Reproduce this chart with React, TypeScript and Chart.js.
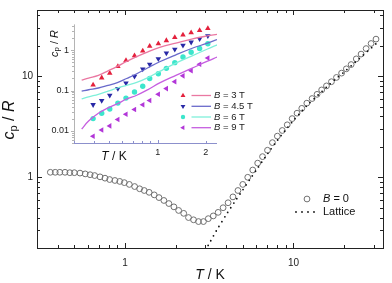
import React, { useEffect, useRef } from 'react';
import { Chart, registerables } from 'chart.js';
Chart.register(...registerables);

const FONT = '"Liberation Sans", Arial, Helvetica, sans-serif';

// ---- main panel: B = 0 data and lattice estimate ----
const T_B0 = [0.36, 0.385, 0.41, 0.44, 0.47, 0.50, 0.54, 0.58, 0.62, 0.66, 0.71, 0.76, 0.81, 0.87, 0.93, 0.99, 1.06, 1.14, 1.22, 1.30, 1.39, 1.49, 1.59, 1.70, 1.82, 1.95, 2.08, 2.23, 2.38, 2.55, 2.73, 2.92, 3.12, 3.34, 3.57, 3.82, 4.09, 4.37, 4.68, 5.00, 5.35, 5.73, 6.13, 6.55, 7.01, 7.50, 8.02, 8.58, 9.18, 9.82, 10.5, 11.2, 12.0, 12.9, 13.8, 14.7, 15.7, 16.8, 18.0, 19.3, 20.6, 22.0, 23.6, 25.2, 27.0, 28.9, 30.9];
const CP_B0 = [1.12, 1.12, 1.12, 1.12, 1.11, 1.11, 1.10, 1.08, 1.06, 1.04, 1.01, 0.98, 0.95, 0.93, 0.91, 0.885, 0.85, 0.81, 0.77, 0.74, 0.71, 0.67, 0.63, 0.59, 0.55, 0.51, 0.47, 0.44, 0.40, 0.38, 0.365, 0.365, 0.39, 0.415, 0.45, 0.50, 0.56, 0.64, 0.74, 0.85, 1.0, 1.18, 1.38, 1.6, 1.85, 2.2, 2.55, 2.9, 3.3, 3.8, 4.3, 4.8, 5.4, 6.0, 6.6, 7.3, 8.0, 8.8, 9.7, 10.7, 11.8, 13.0, 14.8, 16.5, 18.7, 21.0, 23.2];

const T_LAT = [3.0, 3.2, 3.5, 4.0, 4.5, 5.0, 5.5, 6.0, 7.0, 8.0, 9.0, 10, 11, 12, 14, 16, 18, 20, 23, 26, 29, 32];
const CP_LAT = [0.19, 0.23, 0.30, 0.43, 0.58, 0.75, 0.95, 1.17, 1.7, 2.3, 2.95, 3.65, 4.35, 5.1, 6.5, 8.0, 9.5, 11.0, 13.5, 16.2, 19.0, 22.0];

// ---- inset: field data (markers) and model curves (lines) ----
const T_INSET = [0.395, 0.447, 0.502, 0.564, 0.634, 0.717, 0.807, 0.892, 1.01, 1.134, 1.28, 1.44, 1.62, 1.83, 2.06];
const CP_3T = [0.139, 0.208, 0.272, 0.398, 0.56, 0.734, 0.963, 1.26, 1.46, 1.75, 2.09, 2.42, 2.74, 3.12, 3.48];
const CP_45T = [0.0446, 0.0566, 0.0767, 0.112, 0.153, 0.227, 0.344, 0.451, 0.614, 0.85, 1.06, 1.33, 1.59, 1.92, 2.29];
const CP_6T = [0.0202, 0.0274, 0.0348, 0.0489, 0.0652, 0.0922, 0.128, 0.2, 0.262, 0.357, 0.494, 0.684, 0.897, 1.11, 1.46];
const CP_9T = [0.00734, 0.01056, 0.0133, 0.0191, 0.0259, 0.034, 0.0446, 0.0566, 0.081, 0.112, 0.167, 0.232, 0.313, 0.451, 0.648];

const T_FIT = [0.335, 0.37, 0.426, 0.49, 0.56, 0.64, 0.74, 0.87, 1.03, 1.3, 1.63, 2.05, 2.35];
const FIT_3T = [0.182, 0.205, 0.24, 0.31, 0.40, 0.53, 0.70, 0.92, 1.18, 1.51, 1.9, 2.28, 2.5];
const FIT_45T = [0.097, 0.105, 0.116, 0.135, 0.158, 0.2, 0.262, 0.37, 0.52, 0.775, 1.11, 1.51, 1.85];
const FIT_6T = [0.062, 0.07, 0.081, 0.097, 0.116, 0.135, 0.16, 0.21, 0.30, 0.48, 0.72, 1.08, 1.36];
const FIT_9T = [0.0111, 0.0175, 0.0274, 0.0373, 0.0471, 0.0618, 0.0767, 0.106, 0.155, 0.239, 0.357, 0.539, 0.68];

const INSET_LABELS = ['3', '4.5', '6', '9'];
const MAIN_X_LABELS = [1, 10];
const MAIN_Y_LABELS = [1, 10];
const INSET_X_LABELS = [1, 2];
const INSET_Y_LABELS = [0.01, 0.1, 1];

const MARK = ['#e4203c', '#2828a6', '#3ce6cc', '#b236d8'];
const LINE = ['#ea78a2', '#6a6acb', '#7ff0da', '#c65ee0'];
const ROT = [0, 180, 0, 270];
const STYLE = ['triangle', 'triangle', 'circle', 'triangle'];

const pts = (xs: number[], ys: number[]) => xs.map((x, i) => ({ x, y: ys[i] }));

const labelFor = (allowed: number[]) => (v: any) => {
  const n = Number(v);
  for (const a of allowed) if (Math.abs(n - a) < a * 1e-6) return String(a);
  return '';
};

function logTicks(min: number, max: number) {
  const out: { v: number; major: boolean }[] = [];
  for (let n = Math.floor(Math.log10(min)); n <= Math.ceil(Math.log10(max)); n++) {
    for (let k = 1; k <= 9; k++) {
      const v = k * Math.pow(10, n);
      if (v >= min * 0.9999 && v <= max * 1.0001) out.push({ v, major: k === 1 });
    }
  }
  return out;
}

type Part = { t: string; font: string; dy?: number };
function drawRich(ctx: CanvasRenderingContext2D, parts: Part[], x: number, y: number, rot = 0, align: 'center' | 'left' = 'center', color = '#111') {
  ctx.save();
  ctx.translate(x, y);
  if (rot) ctx.rotate(rot);
  ctx.fillStyle = color;
  ctx.textBaseline = 'middle';
  ctx.textAlign = 'left';
  let w = 0;
  parts.forEach(p => { ctx.font = p.font; w += ctx.measureText(p.t).width; });
  let cx = align === 'center' ? -w / 2 : 0;
  parts.forEach(p => {
    ctx.font = p.font;
    ctx.fillText(p.t, cx, p.dy || 0);
    cx += ctx.measureText(p.t).width;
  });
  ctx.restore();
}

function drawMarker(ctx: CanvasRenderingContext2D, style: string, x: number, y: number, r: number, rotDeg: number, color: string) {
  ctx.save();
  ctx.fillStyle = color;
  ctx.beginPath();
  if (style === 'circle') {
    ctx.arc(x, y, r, 0, Math.PI * 2);
  } else {
    let rad = (rotDeg * Math.PI) / 180;
    ctx.moveTo(x + Math.sin(rad) * r, y - Math.cos(rad) * r);
    rad += (2 * Math.PI) / 3;
    ctx.lineTo(x + Math.sin(rad) * r, y - Math.cos(rad) * r);
    rad += (2 * Math.PI) / 3;
    ctx.lineTo(x + Math.sin(rad) * r, y - Math.cos(rad) * r);
    ctx.closePath();
  }
  ctx.fill();
  ctx.restore();
}

const mainDecor = {
  id: 'mainDecor',
  afterDraw(chart: any) {
    const ctx: CanvasRenderingContext2D = chart.ctx;
    const { left, right, top, bottom } = chart.chartArea;
    const xs = chart.scales.x;
    const ys = chart.scales.y;
    ctx.save();
    ctx.strokeStyle = '#222';
    ctx.lineWidth = 1;
    ctx.strokeRect(Math.round(left) + 0.5, Math.round(top) + 0.5, Math.round(right - left), Math.round(bottom - top));
    ctx.beginPath();
    logTicks(xs.min, xs.max).forEach(t => {
      const px = Math.round(xs.getPixelForValue(t.v)) + 0.5;
      const len = t.major ? 5 : 3;
      ctx.moveTo(px, bottom); ctx.lineTo(px, bottom - len);
      ctx.moveTo(px, top); ctx.lineTo(px, top + len);
    });
    logTicks(ys.min, ys.max).forEach(t => {
      const py = Math.round(ys.getPixelForValue(t.v)) + 0.5;
      const len = t.major ? 5 : 3;
      ctx.moveTo(left, py); ctx.lineTo(left + len, py);
      ctx.moveTo(right, py); ctx.lineTo(right - len, py);
    });
    ctx.stroke();
    ctx.restore();

    // axis titles
    drawRich(ctx, [{ t: 'T', font: `italic 14px ${FONT}` }, { t: ' / K', font: `14px ${FONT}` }], (left + right) / 2, 275);
    drawRich(ctx, [
      { t: 'c', font: `italic 16px ${FONT}` },
      { t: 'p', font: `11px ${FONT}`, dy: 4 },
      { t: ' / ', font: `16px ${FONT}` },
      { t: 'R', font: `italic 16px ${FONT}` },
    ], 10, (top + bottom) / 2 - 9, -Math.PI / 2);

    // legend
    ctx.save();
    ctx.strokeStyle = '#707070';
    ctx.lineWidth = 1;
    ctx.beginPath();
    ctx.arc(307, 199, 2.9, 0, Math.PI * 2);
    ctx.stroke();
    ctx.fillStyle = '#111';
    [296, 302, 308, 314].forEach(x => { ctx.beginPath(); ctx.arc(x, 212, 0.9, 0, Math.PI * 2); ctx.fill(); });
    ctx.restore();
    drawRich(ctx, [{ t: 'B', font: `italic 11px ${FONT}` }, { t: ' = 0', font: `11px ${FONT}` }], 323, 199, 0, 'left');
    drawRich(ctx, [{ t: 'Lattice', font: `11px ${FONT}` }], 323, 211.5, 0, 'left');
  },
};

const OX = 40, OY = 14;
const insetDecor = {
  id: 'insetDecor',
  afterDraw(chart: any) {
    const ctx: CanvasRenderingContext2D = chart.ctx;
    const { left, right, top, bottom } = chart.chartArea;
    const xs = chart.scales.x;
    const ys = chart.scales.y;
    ctx.save();
    ctx.lineWidth = 1;
    ctx.strokeStyle = '#b4b4b4';
    ctx.beginPath();
    ctx.moveTo(Math.round(left) + 0.5, top);
    ctx.lineTo(Math.round(left) + 0.5, bottom);
    logTicks(ys.min, ys.max).forEach(t => {
      const py = Math.round(ys.getPixelForValue(t.v)) + 0.5;
      ctx.moveTo(left, py); ctx.lineTo(left - (t.major ? 3 : 2), py);
    });
    ctx.stroke();
    ctx.strokeStyle = '#8c90cc';
    ctx.beginPath();
    ctx.moveTo(left, Math.round(bottom) + 0.5);
    ctx.lineTo(right, Math.round(bottom) + 0.5);
    logTicks(xs.min, xs.max).forEach(t => {
      const px = Math.round(xs.getPixelForValue(t.v)) + 0.5;
      ctx.moveTo(px, bottom); ctx.lineTo(px, bottom - (t.major ? 3 : 2));
    });
    ctx.stroke();
    ctx.restore();

    drawRich(ctx, [
      { t: 'c', font: `italic 11px ${FONT}` },
      { t: 'p', font: `8px ${FONT}`, dy: 2 },
      { t: ' / ', font: `11px ${FONT}` },
      { t: 'R', font: `italic 11px ${FONT}` },
    ], 55 - OX, 43.5 - OY, -Math.PI / 2);
    drawRich(ctx, [{ t: 'T', font: `italic 12px ${FONT}` }, { t: ' / K', font: `12px ${FONT}` }], 114 - OX, 156.5 - OY);

    const rows = [95.5, 106.3, 117, 127.7];
    rows.forEach((ry, i) => {
      const y = ry - OY;
      drawMarker(ctx, STYLE[i], 183 - OX, y, STYLE[i] === 'circle' ? 2.2 : 2.8, ROT[i], MARK[i]);
      ctx.save();
      ctx.strokeStyle = LINE[i];
      ctx.lineWidth = 1.3;
      ctx.beginPath();
      ctx.moveTo(191.5 - OX, y);
      ctx.lineTo(211 - OX, y);
      ctx.stroke();
      ctx.restore();
      drawRich(ctx, [{ t: 'B', font: `italic 9.5px ${FONT}` }, { t: ` = ${INSET_LABELS[i]} T`, font: `9.5px ${FONT}` }], 214 - OX, y, 0, 'left', '#222');
    });
  },
};

export default function App() {
  const mainRef = useRef<HTMLCanvasElement>(null);
  const insetRef = useRef<HTMLCanvasElement>(null);

  useEffect(() => {
    const tickFont = { family: FONT, size: 10 };
    const main = new Chart(mainRef.current as HTMLCanvasElement, {
      type: 'scatter',
      data: {
        datasets: [
          {
            label: 'Lattice',
            data: pts(T_LAT, CP_LAT),
            showLine: true,
            borderColor: '#111',
            borderWidth: 1.8,
            borderDash: [0, 5.5],
            borderCapStyle: 'round',
            pointRadius: 0,
            fill: false,
            tension: 0.3,
          } as any,
          {
            label: 'B = 0',
            data: pts(T_B0, CP_B0),
            showLine: false,
            pointStyle: 'circle',
            pointRadius: 2.9,
            pointBorderWidth: 1,
            pointBorderColor: '#707070',
            pointBackgroundColor: 'rgba(0,0,0,0)',
          },
        ],
      },
      options: {
        responsive: false,
        animation: false,
        devicePixelRatio: 1,
        layout: { padding: { left: 0, top: 5, right: 8, bottom: 0 } },
        plugins: { legend: { display: false }, tooltip: { enabled: false }, title: { display: false } },
        scales: {
          x: {
            type: 'logarithmic',
            min: 0.318,
            max: 34,
            grid: { display: false, drawTicks: false },
            border: { display: false },
            ticks: { autoSkip: false, maxRotation: 0, minRotation: 0, padding: 9, color: '#222', font: tickFont, callback: labelFor(MAIN_X_LABELS) },
            afterFit: (s: any) => { s.height = 35; },
          },
          y: {
            type: 'logarithmic',
            min: 0.2,
            max: 45,
            grid: { display: false, drawTicks: false },
            border: { display: false },
            ticks: { autoSkip: false, padding: 4, color: '#222', font: tickFont, callback: labelFor(MAIN_Y_LABELS) },
            afterFit: (s: any) => { s.width = 37; },
          },
        },
      } as any,
      plugins: [mainDecor],
    });

    const seriesM = [CP_3T, CP_45T, CP_6T, CP_9T];
    const seriesF = [FIT_3T, FIT_45T, FIT_6T, FIT_9T];
    const insetSets: any[] = [];
    seriesF.forEach((ys, i) => {
      insetSets.push({
        data: pts(T_FIT, ys),
        showLine: true,
        borderColor: LINE[i],
        borderWidth: 1.3,
        pointRadius: 0,
        tension: 0.4,
        fill: false,
      });
    });
    seriesM.forEach((ys, i) => {
      insetSets.push({
        data: pts(T_INSET, ys),
        showLine: false,
        pointStyle: STYLE[i],
        rotation: ROT[i],
        pointRadius: STYLE[i] === 'circle' ? 2.7 : 3.2,
        pointBorderWidth: 0,
        pointBackgroundColor: MARK[i],
        pointBorderColor: MARK[i],
      });
    });

    const inset = new Chart(insetRef.current as HTMLCanvasElement, {
      type: 'scatter',
      data: { datasets: insetSets },
      options: {
        responsive: false,
        animation: false,
        devicePixelRatio: 1,
        layout: { padding: { left: 0, top: 4, right: 38, bottom: 0 } },
        plugins: { legend: { display: false }, tooltip: { enabled: false }, title: { display: false } },
        scales: {
          x: {
            type: 'logarithmic',
            min: 0.333,
            max: 2.35,
            grid: { display: false, drawTicks: false },
            border: { display: false },
            ticks: { autoSkip: false, maxRotation: 0, minRotation: 0, padding: 4, color: '#222', font: { family: FONT, size: 9 }, callback: labelFor(INSET_X_LABELS) },
            afterFit: (s: any) => { s.height = 17; },
          },
          y: {
            type: 'logarithmic',
            min: 0.005,
            max: 4.4,
            grid: { display: false, drawTicks: false },
            border: { display: false },
            ticks: { autoSkip: false, padding: 5, color: '#222', font: { family: FONT, size: 9 }, callback: labelFor(INSET_Y_LABELS) },
            afterFit: (s: any) => { s.width = 34; },
          },
        },
      } as any,
      plugins: [insetDecor],
    });

    return () => { main.destroy(); inset.destroy(); };
  }, []);

  return (
    <div style={{ position: 'absolute', left: 0, top: 0, width: 392, height: 283, background: '#fff', overflow: 'hidden' }}>
      <canvas ref={mainRef} width={392} height={283} style={{ position: 'absolute', left: 0, top: 0 }} />
      <canvas ref={insetRef} width={215} height={146} style={{ position: 'absolute', left: OX, top: OY }} />
    </div>
  );
}
